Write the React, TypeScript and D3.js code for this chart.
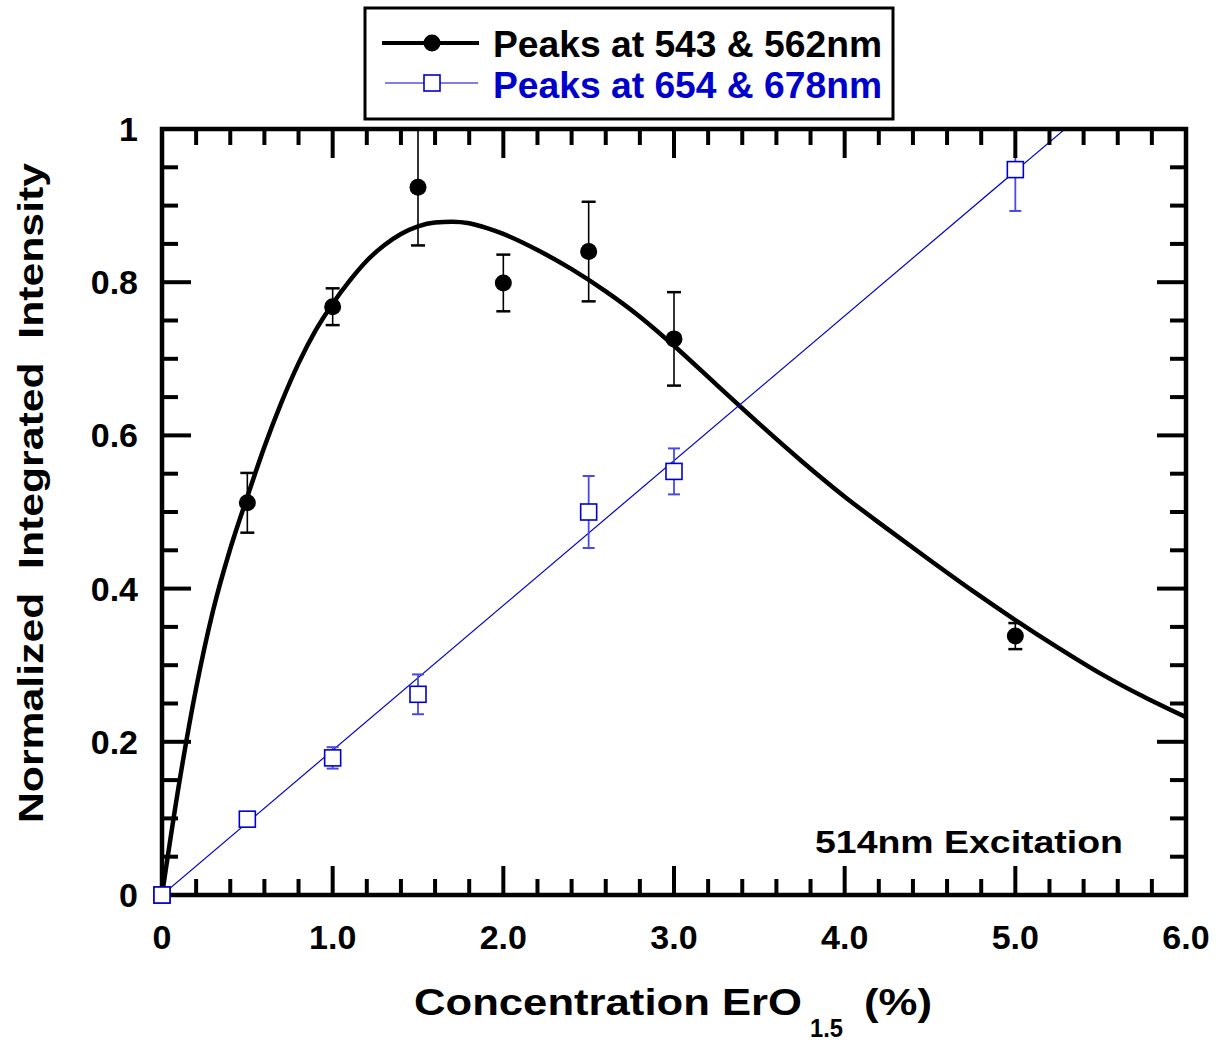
import React from "react";
import * as d3 from "d3";

const blackX = [0.5, 1.0, 1.5, 2.0, 2.5, 3.0, 5.0];
const blackY = [0.512, 0.768, 0.924, 0.799, 0.84, 0.726, 0.338];
const blackErr = [0.039, 0.024, 0.076, 0.037, 0.065, 0.061, 0.017];

const blueX = [0, 0.5, 1.0, 1.5, 2.5, 3.0, 5.0];
const blueY = [0, 0.099, 0.179, 0.262, 0.5, 0.553, 0.947];
const blueErr = [0, 0.004, 0.014, 0.026, 0.047, 0.03, 0.054];

const fitX = [0, 0.1, 0.2, 0.3, 0.4, 0.5, 0.6, 0.7, 0.8, 0.9, 1.0, 1.1, 1.2, 1.3, 1.4, 1.5, 1.6, 1.7, 1.8, 1.9, 2.0, 2.2, 2.4, 2.6, 2.8, 3.0, 3.25, 3.5, 3.75, 4.0, 4.25, 4.5, 4.75, 5.0, 5.25, 5.5, 5.75, 6.0];
const fitY = [0, 0.145, 0.27, 0.372, 0.452, 0.52, 0.585, 0.643, 0.694, 0.737, 0.772, 0.802, 0.828, 0.848, 0.863, 0.873, 0.878, 0.879, 0.877, 0.871, 0.863, 0.842, 0.817, 0.788, 0.755, 0.717, 0.666, 0.615, 0.566, 0.52, 0.478, 0.437, 0.397, 0.359, 0.323, 0.289, 0.259, 0.232];

const lineX = [0, 6];
const lineY = [0, 0.189 * 6];

const xTickVals = [0, 1, 2, 3, 4, 5, 6];
const xTickLabels = ["0", "1.0", "2.0", "3.0", "4.0", "5.0", "6.0"];
const yTickVals = [0, 0.2, 0.4, 0.6, 0.8, 1];
const yTickLabels = ["0", "0.2", "0.4", "0.6", "0.8", "1"];

const legendLabels = ["Peaks at 543 & 562nm", "Peaks at 654 & 678nm"];

const FONT = "'Liberation Sans', Arial, Helvetica, sans-serif";
const BLUE = "#0000cc";

export default function App() {
  const W = 1219, H = 1044;
  const L = 162, R = 1186, T = 129, B = 895;
  const x = d3.scaleLinear().domain([0, 6]).range([L, R]);
  const y = d3.scaleLinear().domain([0, 1]).range([B, T]);

  const fitPts: [number, number][] = fitX.map((v, i) => [v, fitY[i]]);
  const fitPath = d3.line<[number, number]>().x(d => x(d[0])).y(d => y(d[1])).curve(d3.curveMonotoneX)(fitPts) || "";
  const linePts: [number, number][] = lineX.map((v, i) => [v, lineY[i]]);
  const linePath = d3.line<[number, number]>().x(d => x(d[0])).y(d => y(d[1]))(linePts) || "";

  const xMinor = d3.range(0, 6.0001, 0.2).filter(v => Math.abs(v - Math.round(v)) > 1e-6);
  const yMinor = d3.range(0, 1.0001, 0.05).filter(v => Math.abs(v * 5 - Math.round(v * 5)) > 1e-6);
  const MAJ = 29, MIN = 16;

  return (
    <svg width={W} height={H} style={{ position: "absolute", left: 0, top: 0 }} fontFamily={FONT}>
      <defs>
        <clipPath id="plot">
          <rect x={L} y={T} width={R - L} height={B - T} />
        </clipPath>
      </defs>
      <rect x={0} y={0} width={W} height={H} fill="#fff" />

      <g clipPath="url(#plot)">
        <path d={fitPath} fill="none" stroke="#000" strokeWidth={4.5} />
        <path d={linePath} fill="none" stroke={BLUE} strokeWidth={1.2} />
        {blackX.map((v, i) => (
          <g key={"be" + i} stroke="#000">
            <line x1={x(v)} x2={x(v)} y1={y(blackY[i] - blackErr[i])} y2={y(blackY[i] + blackErr[i])} strokeWidth={1.6} />
            <line x1={x(v) - 7} x2={x(v) + 7} y1={y(blackY[i] - blackErr[i])} y2={y(blackY[i] - blackErr[i])} strokeWidth={2.5} />
            <line x1={x(v) - 7} x2={x(v) + 7} y1={y(blackY[i] + blackErr[i])} y2={y(blackY[i] + blackErr[i])} strokeWidth={2.5} />
          </g>
        ))}
        {blueX.map((v, i) => blueErr[i] > 0.01 ? (
          <g key={"ue" + i} stroke="#4a4ae8">
            <line x1={x(v)} x2={x(v)} y1={y(blueY[i] - blueErr[i])} y2={y(blueY[i] + blueErr[i])} strokeWidth={1.8} />
            <line x1={x(v) - 6} x2={x(v) + 6} y1={y(blueY[i] - blueErr[i])} y2={y(blueY[i] - blueErr[i])} strokeWidth={2} />
            <line x1={x(v) - 6} x2={x(v) + 6} y1={y(blueY[i] + blueErr[i])} y2={y(blueY[i] + blueErr[i])} strokeWidth={2} />
          </g>
        ) : null)}
      </g>
      {blackX.map((v, i) => (
        <circle key={"bp" + i} cx={x(v)} cy={y(blackY[i])} r={8.5} fill="#000" />
      ))}
      {blueX.map((v, i) => (
        <rect key={"up" + i} x={x(v) - 8} y={y(blueY[i]) - 8} width={16} height={16} fill="#fff" stroke={BLUE} strokeWidth={1.6} />
      ))}

      {/* ticks */}
      <g stroke="#000" strokeWidth={4}>
        {xTickVals.map(v => (
          <g key={"xm" + v}>
            <line x1={x(v)} x2={x(v)} y1={B} y2={B - MAJ} />
            <line x1={x(v)} x2={x(v)} y1={T} y2={T + MAJ} />
          </g>
        ))}
        {xMinor.map(v => (
          <g key={"xn" + v}>
            <line x1={x(v)} x2={x(v)} y1={B} y2={B - MIN} />
            <line x1={x(v)} x2={x(v)} y1={T} y2={T + MIN} />
          </g>
        ))}
        {yTickVals.map(v => (
          <g key={"ym" + v}>
            <line x1={L} x2={L + MAJ} y1={y(v)} y2={y(v)} />
            <line x1={R} x2={R - MAJ} y1={y(v)} y2={y(v)} />
          </g>
        ))}
        {yMinor.map(v => (
          <g key={"yn" + v}>
            <line x1={L} x2={L + MIN} y1={y(v)} y2={y(v)} />
            <line x1={R} x2={R - MIN} y1={y(v)} y2={y(v)} />
          </g>
        ))}
      </g>

      {/* frame */}
      <rect x={L} y={T} width={R - L} height={B - T} fill="none" stroke="#000" strokeWidth={4.5} />
      <rect x={x(blueX[0]) - 8} y={y(blueY[0]) - 8} width={16} height={16} fill="#fff" stroke={BLUE} strokeWidth={1.6} />

      {/* tick labels */}
      <g fontWeight="bold" fontSize={34} fill="#000">
        {xTickVals.map((v, i) => (
          <text key={"xl" + v} x={x(v)} y={949} textAnchor="middle">{xTickLabels[i]}</text>
        ))}
        {yTickVals.map((v, i) => (
          <text key={"yl" + v} x={138} y={y(v) + 12} textAnchor="end">{yTickLabels[i]}</text>
        ))}
      </g>

      {/* axis titles */}
      <g fontWeight="bold" fill="#000">
        <text x={414} y={1015} fontSize={36} textLength={388} lengthAdjust="spacingAndGlyphs">Concentration ErO</text>
        <text x={810} y={1037} fontSize={26} textLength={33} lengthAdjust="spacingAndGlyphs">1.5</text>
        <text x={864} y={1015} fontSize={36} textLength={68} lengthAdjust="spacingAndGlyphs">(%)</text>
        <text transform="translate(43,493) rotate(-90)" textAnchor="middle" fontSize={35} textLength={660} lengthAdjust="spacingAndGlyphs" style={{ whiteSpace: "pre" }}>{"Normalized  Integrated  Intensity"}</text>
        <text x={815} y={853} fontSize={31} textLength={308} lengthAdjust="spacingAndGlyphs">514nm Excitation</text>
      </g>

      {/* legend */}
      <rect x={365} y={8} width={528} height={111} fill="#fff" stroke="#000" strokeWidth={3} />
      <line x1={382} x2={479} y1={43} y2={43} stroke="#000" strokeWidth={4} />
      <circle cx={432} cy={43} r={8.5} fill="#000" />
      <line x1={385} x2={478} y1={83} y2={83} stroke={BLUE} strokeWidth={1.2} />
      <rect x={424} y={75} width={16} height={16} fill="#fff" stroke={BLUE} strokeWidth={1.6} />
      <g fontWeight="bold" fontSize={36}>
        <text x={493} y={57} fill="#000" textLength={389} lengthAdjust="spacingAndGlyphs">{legendLabels[0]}</text>
        <text x={493} y={98} fill={BLUE} textLength={389} lengthAdjust="spacingAndGlyphs">{legendLabels[1]}</text>
      </g>
    </svg>
  );
}
